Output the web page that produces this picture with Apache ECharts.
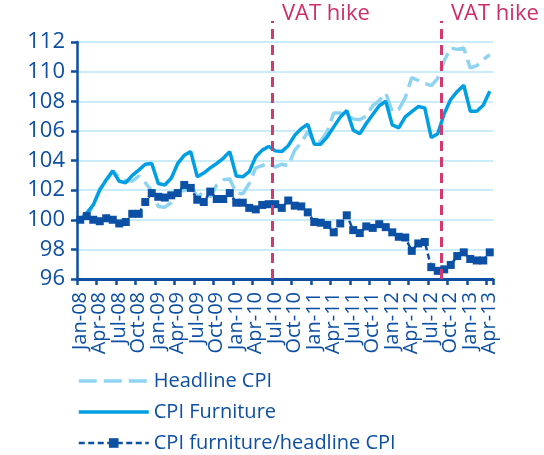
<!DOCTYPE html>
<html>
<head>
<meta charset="utf-8">
<script src="https://cdn.jsdelivr.net/npm/echarts@6/dist/echarts.min.js"></script>
<style>
  html, body { margin: 0; padding: 0; background: #fff; }
  #chart { width: 544px; height: 455px; }
</style>
</head>
<body>
<div id="chart"></div>
<script>
// months, Jan-08 .. Apr-13
var months = [
  'Jan-08', 'Feb-08', 'Mar-08', 'Apr-08', 'May-08', 'Jun-08', 'Jul-08', 'Aug-08', 'Sep-08', 'Oct-08', 'Nov-08', 'Dec-08',
  'Jan-09', 'Feb-09', 'Mar-09', 'Apr-09', 'May-09', 'Jun-09', 'Jul-09', 'Aug-09', 'Sep-09', 'Oct-09', 'Nov-09', 'Dec-09',
  'Jan-10', 'Feb-10', 'Mar-10', 'Apr-10', 'May-10', 'Jun-10', 'Jul-10', 'Aug-10', 'Sep-10', 'Oct-10', 'Nov-10', 'Dec-10',
  'Jan-11', 'Feb-11', 'Mar-11', 'Apr-11', 'May-11', 'Jun-11', 'Jul-11', 'Aug-11', 'Sep-11', 'Oct-11', 'Nov-11', 'Dec-11',
  'Jan-12', 'Feb-12', 'Mar-12', 'Apr-12', 'May-12', 'Jun-12', 'Jul-12', 'Aug-12', 'Sep-12', 'Oct-12', 'Nov-12', 'Dec-12',
  'Jan-13', 'Feb-13', 'Mar-13', 'Apr-13'
];

var headlineCpi = [
  100.0, 100.2, 101.0, 102.1, 102.6, 103.3, 102.85, 102.65, 102.6, 102.95, 102.5, 101.95,
  100.9, 100.85, 101.15, 101.95, 101.95, 102.4, 101.5, 101.9, 101.55, 102.35, 102.7, 102.75,
  101.8, 101.75, 102.45, 103.5, 103.65, 103.85, 103.55, 103.75, 103.65, 104.7, 105.2, 105.95,
  105.25, 105.3, 105.95, 107.2, 107.2, 107.05, 106.8, 106.75, 107.0, 107.7, 108.05, 108.55,
  107.3, 107.45, 108.25, 109.6, 109.4, 109.2, 109.05, 109.55, 110.75, 111.6, 111.5, 111.6,
  110.25, 110.4, 110.8, 111.15
];

var furnitureCpi = [
  100.0, 100.45, 101.0, 102.0, 102.7, 103.3, 102.6, 102.5, 103.0, 103.35, 103.75, 103.8,
  102.45, 102.35, 102.8, 103.8, 104.35, 104.6, 102.9, 103.15, 103.5, 103.8, 104.15, 104.6,
  102.95, 102.9, 103.25, 104.25, 104.7, 104.95, 104.65, 104.6, 105.0, 105.7, 106.15, 106.45,
  105.1, 105.1, 105.6, 106.27, 106.93, 107.38, 106.05, 105.8, 106.5, 107.1, 107.7, 108.0,
  106.4, 106.2, 106.95, 107.3, 107.64, 107.55, 105.55, 105.8, 107.17, 108.13, 108.66, 109.08,
  107.33, 107.33, 107.73, 108.68
];

var furnitureRatio = [
  100.0, 100.25, 100.0, 99.9, 100.1, 100.0, 99.75, 99.85, 100.4, 100.4, 101.2, 101.8,
  101.55, 101.5, 101.65, 101.8, 102.35, 102.15, 101.35, 101.2, 101.9, 101.4, 101.4, 101.8,
  101.15, 101.15, 100.8, 100.7, 101.0, 101.05, 101.05, 100.8, 101.3, 100.95, 100.9, 100.5,
  99.85, 99.8, 99.65, 99.15, 99.75, 100.3, 99.3, 99.1, 99.55, 99.45, 99.7, 99.5,
  99.15, 98.85, 98.8, 97.9, 98.4, 98.5, 96.8, 96.55, 96.65, 96.95, 97.55, 97.8,
  97.35, 97.25, 97.25, 97.8
];

// month index where the VAT hike line sits (start of Jul-10, Sep-12)
var vatHikes = [30, 56];
// a label every third month
var labelStep = 3;

var dark = '#0D4FA3';
var font = 'Open Sans';

var chart = echarts.init(document.getElementById('chart'));

chart.setOption({
  animation: false,
  textStyle: { fontFamily: font },
  grid: [
    { left: 77, right: 51, top: 42, bottom: 176 },
    // same width, taller: only used for the VAT lines
    { left: 77, right: 51, top: 21, bottom: 176 }
  ],
  legend: {
    orient: 'vertical',
    left: 77,
    top: 371,
    padding: 0,
    itemWidth: 70,
    itemHeight: 12,
    itemGap: 11,
    textStyle: { fontSize: 20, color: dark, fontFamily: font, lineHeight: 20 },
    data: [
      { name: 'Headline CPI', itemStyle: { opacity: 0 }, lineStyle: { width: 3.5 } },
      { name: 'CPI Furniture', itemStyle: { opacity: 0 }, lineStyle: { width: 3.5 } },
      { name: 'CPI furniture/headline CPI', lineStyle: { width: 2.5 } }
    ]
  },
  xAxis: [
    {
      type: 'category',
      gridIndex: 0,
      data: months,
      boundaryGap: true,
      axisLine: { lineStyle: { color: dark, width: 3 } },
      axisTick: { show: true, interval: labelStep - 1, length: 6, lineStyle: { color: dark, width: 2.5 } },
      axisLabel: {
        interval: 0, rotate: 90, fontSize: 20, color: dark, margin: 13, fontFamily: font,
        formatter: function (value, idx) { return idx % labelStep === 0 ? value : ''; }
      },
      splitLine: { show: false }
    },
    { type: 'value', gridIndex: 1, min: 0, max: months.length, show: false }
  ],
  yAxis: [
    {
      type: 'value',
      gridIndex: 0,
      min: 96,
      max: 112,
      interval: 2,
      axisLine: { show: true, lineStyle: { color: dark, width: 2.5 } },
      axisTick: { show: true, length: 6, lineStyle: { color: dark, width: 2.5 } },
      axisLabel: { fontSize: 22, color: dark, margin: 12, fontFamily: font },
      splitLine: { lineStyle: { color: '#B9E4F6', width: 1.5 } }
    },
    { type: 'value', gridIndex: 1, min: 0, max: 1, show: false }
  ],
  series: [
    {
      name: 'Headline CPI',
      type: 'line',
      data: headlineCpi,
      symbol: 'none',
      lineStyle: { color: '#8FD3F2', width: 3.5, type: [18, 7] },
      itemStyle: { color: '#8FD3F2' }
    },
    {
      name: 'CPI Furniture',
      type: 'line',
      data: furnitureCpi,
      symbol: 'none',
      lineStyle: { color: '#009FE3', width: 3.5 },
      itemStyle: { color: '#009FE3' }
    },
    {
      name: 'CPI furniture/headline CPI',
      type: 'line',
      data: furnitureRatio,
      symbol: 'rect',
      symbolSize: 8,
      showAllSymbol: true,
      lineStyle: { color: '#0B50A4', width: 2.5, type: [6, 3.5] },
      itemStyle: { color: '#0B50A4' }
    },
    {
      type: 'line',
      xAxisIndex: 1,
      yAxisIndex: 1,
      data: [],
      z: 5,
      markLine: {
        silent: true,
        symbol: ['none', 'none'],
        lineStyle: { color: '#D3386E', width: 3, type: [10, 6] },
        label: {
          show: true,
          position: 'end',
          formatter: 'VAT hike',
          color: '#CF2D67',
          fontSize: 22,
          fontFamily: font,
          align: 'left',
          verticalAlign: 'middle',
          padding: [0, 0, 0, 10],
          distance: 7
        },
        data: vatHikes.map(function (i) { return { xAxis: i }; })
      }
    }
  ]
});
</script>
</body>
</html>
